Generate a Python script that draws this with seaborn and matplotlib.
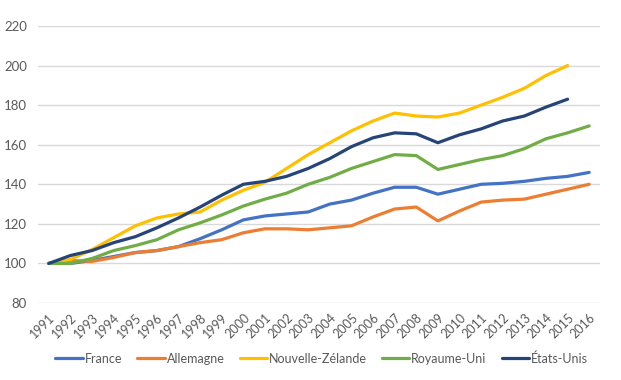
import numpy as np
import pandas as pd
import matplotlib
matplotlib.use("Agg")
import matplotlib.pyplot as plt
import seaborn as sns

YEARS = list(range(1991, 2017))

france = [100, 100, 101.5, 103.5, 105.5, 106.5, 108.5, 112.5, 117, 122, 124, 125,
          126, 130, 132, 135.5, 138.5, 138.5, 135, 137.5, 140, 140.5, 141.5, 143, 144, 146]
allemagne = [100, 101.5, 101, 103, 105.5, 106.5, 108.5, 110.5, 112, 115.5, 117.5, 117.5,
             117, 118, 119, 123.5, 127.5, 128.5, 121.5, 126.5, 131, 132, 132.5, 135, 137.5, 140]
nz = [100, 102, 107, 113, 119, 123, 125, 126, 132, 137, 141, 148,
      155, 161, 167, 172, 176, 174.5, 174, 176, 180, 184, 188.5, 195, 200]
royaume_uni = [100, 100, 102.5, 106.5, 109, 112, 117, 120.5, 124.5, 129, 132.5, 135.5,
               140, 143.5, 148, 151.5, 155, 154.5, 147.5, 150, 152.5, 154.5, 158, 163, 166, 169.5]
etats_unis = [100, 104, 106.5, 110.5, 113.5, 118, 123, 128.5, 134.5, 140, 141.5, 144,
              148, 153, 159, 163.5, 166, 165.5, 161, 165, 168, 172, 174.5, 179, 183]

SERIES = ["France", "Allemagne", "Nouvelle-Zélande", "Royaume-Uni", "États-Unis"]
COLORS = ["#4472C4", "#ED7D31", "#FFC000", "#70AD47", "#264478"]

frames = []
for name, vals in zip(SERIES, [france, allemagne, nz, royaume_uni, etats_unis]):
    frames.append(pd.DataFrame({"annee": YEARS[:len(vals)], "valeur": vals, "pays": name}))
df = pd.concat(frames, ignore_index=True)

sns.set_style("white")
plt.rcParams["font.family"] = ["Lato", "DejaVu Sans"]

fig = plt.figure(figsize=(6.21, 3.80), dpi=100)
ax = fig.add_axes([38 / 621, 1 - 303 / 380, 562 / 621, 277 / 380])

sns.lineplot(data=df, x="annee", y="valeur", hue="pays", hue_order=SERIES,
             palette=COLORS, linewidth=2.3, ax=ax)

ax.set_xlim(1990.5, 2016.5)
ax.set_ylim(80, 220)
ax.set_yticks(range(80, 221, 20))
ax.set_xticks(YEARS)
ax.set_xticklabels([str(y) for y in YEARS], rotation=45, ha="right",
                   rotation_mode="anchor", fontsize=9, color="#595959")
for lab in ax.get_yticklabels():
    lab.set_fontsize(9.5)
    lab.set_color("#595959")
ax.tick_params(axis="x", length=0, pad=6)
ax.tick_params(axis="y", length=0, pad=8)
ax.grid(axis="y", color="#d9d9d9", linewidth=1)
ax.set_axisbelow(True)
for s in ax.spines.values():
    s.set_visible(False)
ax.set_xlabel("")
ax.set_ylabel("")

handles, labels = ax.get_legend_handles_labels()
ax.legend(handles, labels, loc="center", bbox_to_anchor=(0.505, -0.2), ncol=5,
          frameon=False, fontsize=9, handlelength=2.2, handletextpad=0.15,
          columnspacing=1.2, labelcolor="#595959")

fig.savefig("out.png", dpi=100)
